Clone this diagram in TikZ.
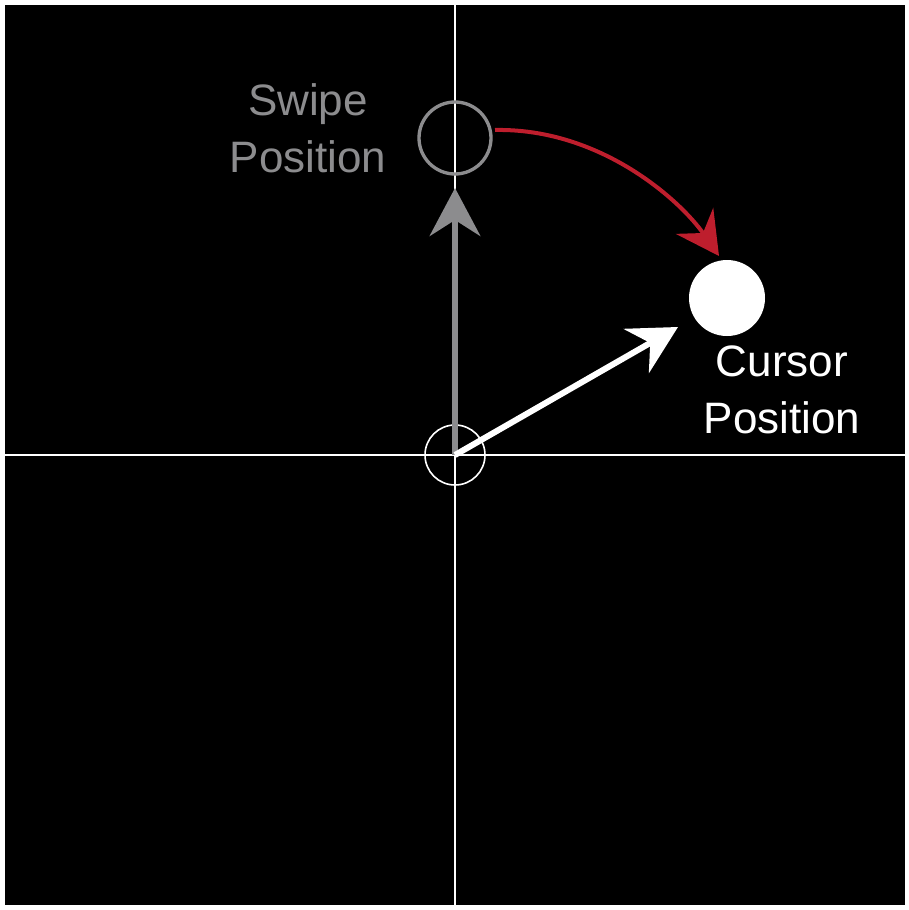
\documentclass[tikz,border=0pt]{standalone}
\usepackage{fontspec}
\setmainfont{Liberation Sans}
\usetikzlibrary{arrows.meta}
\definecolor{swipegray}{RGB}{140,140,142}
\definecolor{swipered}{RGB}{190,30,45}
\begin{document}
\begin{tikzpicture}[x=0.75pt,y=-0.75pt,
axis/.style={white,line width=1.5},
label/.style={align=center,font=\fontsize{33}{43}\selectfont},
vec/.style={line width=4.5,-{Stealth[length=36,width=38,inset=12]}},
]
\useasboundingbox(0,0)rectangle(909,910);
%background
\fill[white](0,0)rectangle(909,910);
\fill[black](5,5)rectangle(905,905);
%axis
\draw[axis](455,5)--(455,905);
\draw[axis](5,455)--(905,455);
%positions
\node[circle,draw=white,line width=1.2,minimum size=45,inner sep=0](origin)at(455,455){};
\node[circle,draw=swipegray,line width=2.5,minimum size=54,inner sep=0](swipe)at(455,138){};
\node[circle,fill=white,minimum size=57,inner sep=0](cursor)at(727,298){};
%labels
\node[label,text=swipegray](swipelabel)at(308,128){Swipe\\Position};
\node[label,text=white](cursorlabel)at(782,390){Cursor\\Position};
%vectors
\coordinate(swipetip)at(455,188);
\coordinate(cursortip)at(678,327);
\draw[vec,swipegray](origin.center)--(swipetip);
\draw[vec,white](origin.center)--(cursortip);
%swipe to cursor
\coordinate(redstart)at(495,130);
\coordinate(redend)at(719,256);
\draw[swipered,line width=3,-{Stealth[length=32,width=34,inset=11]}](redstart)..controls(600,128)and(680,200)..(redend);
\end{tikzpicture}
\end{document}
